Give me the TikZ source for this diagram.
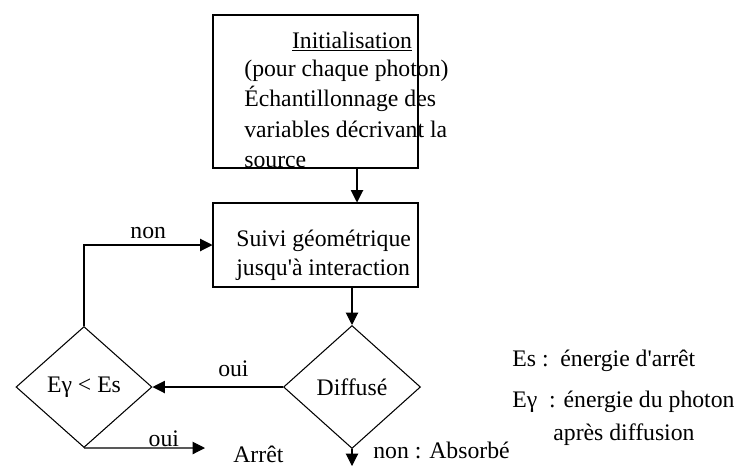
\documentclass[tikz,border=0pt]{standalone}
\usepackage{fontspec}
\setmainfont{Liberation Serif}
\usetikzlibrary{shapes.geometric,arrows.meta,positioning}

\begin{document}
\begin{tikzpicture}
[
	x=0.02cm, y=-0.02cm,
	every node/.style={font=\fontsize{13.5}{16}\selectfont},
	box/.style={draw,line width=0.6pt,inner sep=0pt},
	decision/.style={diamond,draw,line width=0.6pt,inner sep=0pt},
	txt/.style={inner sep=0pt,anchor=base west},
	arr/.style={line width=0.6pt,-{Triangle[length=7pt,width=7pt]}},
]

	\useasboundingbox (0,0) rectangle (750,467);

	% boxes
	\node[box,minimum width=4.1cm,minimum height=3.06cm] at (315.5,91.5) (init) {};
	\node[box,minimum width=4.1cm,minimum height=1.68cm] at (315.5,245) (suivi) {};

	% decisions
	\node[decision,minimum width=2.74cm,minimum height=2.46cm] at (352,387) (diff) {Diffusé};
	\node[decision,minimum width=2.72cm,minimum height=2.42cm] at (84,387) (cmp) {Eγ < Es};

	% box texts
	\node[inner sep=0pt,anchor=base] at (352,48) (titre) {\underline{Initialisation}};
	\node[txt] at (244,76) (l1) {(pour chaque photon)};
	\node[txt] at (244,106) (l2) {Échantillonnage des};
	\node[txt] at (244,137) (l3) {variables décrivant la};
	\node[txt] at (244,167) (l4) {source};
	\node[txt] at (236,246) (s1) {Suivi géométrique};
	\node[txt] at (236,275) (s2) {jusqu\textquotesingle à interaction};

	% connectors
	\coordinate (a1) at (357,0);
	\draw[arr] (a1 |- init.south) -- (a1 |- suivi.north);
	\draw[arr] (diff.north |- suivi.south) -- (diff.north);
	\draw[arr] (diff.west) -- (cmp.east) node[pos=0.38,above=2pt] (oui1) {oui};
	\draw[arr] (cmp.north) |- (suivi.west) node[pos=0.75,above=0pt] (non1) {non};
	\coordinate (stop) at (205,448);
	\draw[arr] (cmp.south) -- (stop) node[pos=0.66,above=-3pt] (oui2) {oui};
	\coordinate (absorb) at (352,466);
	\draw[arr] (diff.south) -- (absorb);

	% outcomes
	\node[txt] at (233,462) (arret) {Arrêt};
	\node[txt] at (373,458) (absorbe) {non : Absorbé};

	% legend
	\node[txt] at (512,366) (leg1) {Es :\ \ énergie d\textquotesingle arrêt};
	\node[txt] at (512,407) (leg2) {Eγ\ \ : énergie du photon};
	\node[txt] at (553,440) (leg3) {après diffusion};

\end{tikzpicture}
\end{document}
